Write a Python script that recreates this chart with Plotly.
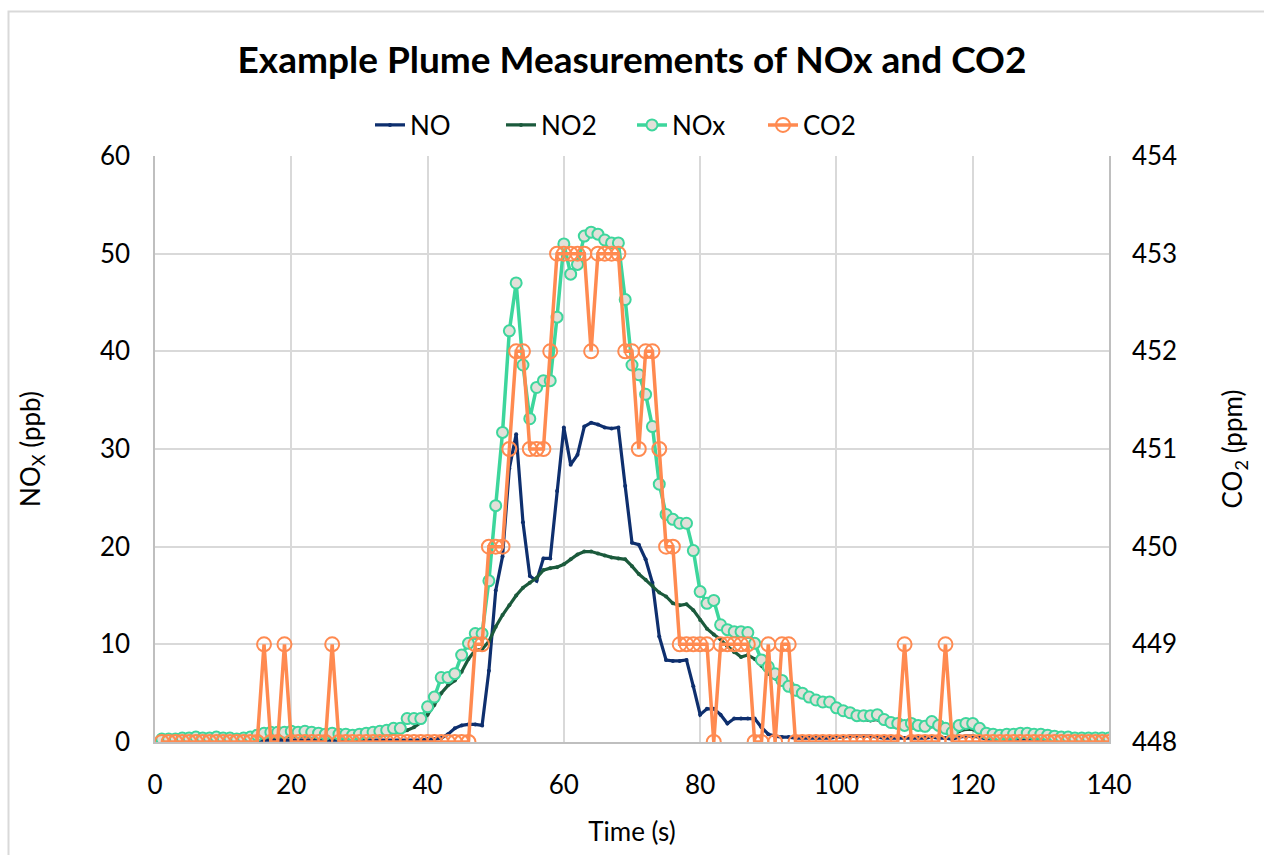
import plotly.graph_objects as go

time_s = list(range(1, 141))

no_ppb = [
    0.2, 0.2, 0.2, 0.2, 0.2, 0.2, 0.2, 0.2, 0.2, 0.2,   # 1-10
    0.2, 0.2, 0.2, 0.2, 0.2, 0.2, 0.2, 0.2, 0.2, 0.2,   # 11-20
    0.2, 0.2, 0.2, 0.2, 0.2, 0.2, 0.2, 0.2, 0.2, 0.2,   # 21-30
    0.2, 0.2, 0.2, 0.2, 0.2, 0.2, 0.2, 0.2, 0.2, 0.3,   # 31-40
    0.3, 0.4, 0.8, 1.4, 1.7, 1.8, 1.8, 1.7, 7.3, 15.5,  # 41-50
    19.0, 28.0, 31.5, 22.5, 17.0, 16.5, 18.8, 18.8, 25.7, 32.2,  # 51-60
    28.4, 29.4, 32.3, 32.7, 32.5, 32.2, 32.1, 32.2, 26.2, 20.4,  # 61-70
    20.2, 18.7, 16.3, 10.8, 8.4, 8.3, 8.3, 8.4, 5.7, 2.8,  # 71-80
    3.4, 3.4, 2.8, 1.9, 2.4, 2.4, 2.4, 2.4, 1.5, 0.8,   # 81-90
    0.6, 0.5, 0.5, 0.4, 0.4, 0.4, 0.4, 0.4, 0.4, 0.5,   # 91-100
    0.5, 0.6, 0.6, 0.6, 0.6, 0.5, 0.4, 0.4, 0.4, 0.4,   # 101-110
    0.4, 0.4, 0.4, 0.5, 0.4, 0.4, 0.3, 0.5, 0.6, 0.6,   # 111-120
    0.5, 0.3, 0.3, 0.3, 0.3, 0.3, 0.3, 0.3, 0.3, 0.3,   # 121-130
    0.2, 0.2, 0.2, 0.2, 0.2, 0.2, 0.2, 0.2, 0.2, 0.2,   # 131-140
]

no2_ppb = [
    0.2, 0.2, 0.2, 0.2, 0.3, 0.3, 0.2, 0.2, 0.3, 0.2,   # 1-10
    0.2, 0.2, 0.2, 0.3, 0.4, 0.5, 0.5, 0.5, 0.5, 0.6,   # 11-20
    0.5, 0.6, 0.5, 0.5, 0.4, 0.5, 0.4, 0.4, 0.4, 0.5,   # 21-30
    0.5, 0.6, 0.7, 0.8, 0.9, 1.0, 1.2, 1.5, 2.0, 2.8,   # 31-40
    3.8, 5.0, 5.8, 6.3, 7.2, 8.5, 9.4, 9.5, 10.3, 11.8,  # 41-50
    13.0, 14.0, 15.0, 15.8, 16.3, 16.8, 17.6, 17.8, 17.9, 18.2,  # 51-60
    18.7, 19.2, 19.5, 19.5, 19.3, 19.1, 18.9, 18.8, 18.7, 18.0,  # 61-70
    17.2, 16.6, 16.0, 15.3, 14.9, 14.2, 14.0, 14.1, 13.5, 12.5,  # 71-80
    11.6, 11.0, 10.5, 9.8, 9.2, 8.7, 8.9, 8.5, 7.8, 7.0,  # 81-90
    6.5, 6.0, 5.4, 4.9, 4.6, 4.3, 4.0, 3.8, 3.7, 3.2,   # 91-100
    2.9, 2.6, 2.3, 2.3, 2.2, 2.3, 1.9, 1.6, 1.5, 1.3,   # 101-110
    1.5, 1.3, 1.2, 1.6, 1.3, 1.0, 0.7, 1.1, 1.3, 1.3,   # 111-120
    0.9, 0.6, 0.5, 0.5, 0.5, 0.5, 0.5, 0.5, 0.5, 0.5,   # 121-130
    0.4, 0.4, 0.3, 0.3, 0.3, 0.3, 0.3, 0.3, 0.3, 0.3,   # 131-140
]

nox_ppb = [
    0.3, 0.3, 0.3, 0.4, 0.4, 0.5, 0.4, 0.4, 0.5, 0.4,   # 1-10
    0.4, 0.3, 0.4, 0.5, 0.7, 0.9, 1.0, 1.0, 1.0, 1.1,   # 11-20
    1.0, 1.1, 1.0, 0.9, 0.8, 0.9, 0.8, 0.8, 0.7, 0.8,   # 21-30
    0.9, 1.0, 1.1, 1.2, 1.4, 1.4, 2.4, 2.4, 2.4, 3.6,   # 31-40
    4.6, 6.6, 6.6, 7.0, 8.9, 10.1, 11.1, 11.1, 16.5, 24.2,  # 41-50
    31.7, 42.1, 47.0, 38.6, 33.1, 36.3, 37.0, 37.0, 43.5, 51.0,  # 51-60
    47.9, 48.9, 51.8, 52.2, 52.0, 51.4, 51.1, 51.1, 45.3, 38.6,  # 61-70
    37.6, 35.6, 32.3, 26.4, 23.3, 22.8, 22.4, 22.4, 19.6, 15.4,  # 71-80
    14.2, 14.5, 12.0, 11.5, 11.3, 11.3, 11.2, 10.1, 8.4, 7.7,  # 81-90
    7.0, 6.3, 5.7, 5.3, 5.0, 4.6, 4.3, 4.1, 4.1, 3.5,   # 91-100
    3.2, 3.0, 2.7, 2.7, 2.7, 2.8, 2.3, 2.0, 1.9, 1.7,   # 101-110
    1.9, 1.7, 1.6, 2.1, 1.7, 1.4, 1.0, 1.7, 1.9, 1.9,   # 111-120
    1.4, 0.9, 0.8, 0.7, 0.8, 0.8, 0.9, 0.9, 0.8, 0.8,   # 121-130
    0.7, 0.6, 0.5, 0.5, 0.4, 0.4, 0.4, 0.4, 0.4, 0.4,   # 131-140
]

co2_ppm = [
    448, 448, 448, 448, 448, 448, 448, 448, 448, 448,   # 1-10
    448, 448, 448, 448, 448, 449, 448, 448, 449, 448,   # 11-20
    448, 448, 448, 448, 448, 449, 448, 448, 448, 448,   # 21-30
    448, 448, 448, 448, 448, 448, 448, 448, 448, 448,   # 31-40
    448, 448, 448, 448, 448, 448, 449, 449, 450, 450,   # 41-50
    450, 451, 452, 452, 451, 451, 451, 452, 453, 453,   # 51-60
    453, 453, 453, 452, 453, 453, 453, 453, 452, 452,   # 61-70
    451, 452, 452, 451, 450, 450, 449, 449, 449, 449,   # 71-80
    449, 448, 449, 449, 449, 449, 449, 448, 448, 449,   # 81-90
    448, 449, 449, 448, 448, 448, 448, 448, 448, 448,   # 91-100
    448, 448, 448, 448, 448, 448, 448, 448, 448, 449,   # 101-110
    448, 448, 448, 448, 448, 449, 448, 448, 448, 448,   # 111-120
    448, 448, 448, 448, 448, 448, 448, 448, 448, 448,   # 121-130
    448, 448, 448, 448, 448, 448, 448, 448, 448, 448,   # 131-140
]

x_ticks = [0, 20, 40, 60, 80, 100, 120, 140]
nox_ticks = [0, 10, 20, 30, 40, 50, 60]
co2_ticks = [448, 449, 450, 451, 452, 453, 454]

FONT = "Lato"
C_NO = "#0E2F6E"
C_NO2 = "#1B5A3C"
C_NOX = "#3DD69C"
C_CO2 = "#FF8A50"
GRID = "#D9D9D9"
AXIS = "#BFBFBF"

fig = go.Figure()
fig.add_trace(go.Scatter(
    x=time_s, y=no_ppb, name="NO", mode="lines+markers",
    line=dict(color=C_NO, width=3.2), marker=dict(size=4, color=C_NO)))
fig.add_trace(go.Scatter(
    x=time_s, y=no2_ppb, name="NO2", mode="lines+markers",
    line=dict(color=C_NO2, width=3.2), marker=dict(size=4, color=C_NO2)))
fig.add_trace(go.Scatter(
    x=time_s, y=nox_ppb, name="NOx", mode="lines+markers",
    line=dict(color=C_NOX, width=3.5),
    marker=dict(size=11, color="#E2E0D9", line=dict(color=C_NOX, width=2))))
fig.add_trace(go.Scatter(
    x=time_s, y=co2_ppm, name="CO2", mode="lines+markers", yaxis="y2",
    line=dict(color=C_CO2, width=3.5),
    marker=dict(size=14, symbol="circle-open", color=C_CO2, line=dict(width=2))))

W, H = 1264, 855
L, R, T, B = 155, 155, 156, 113
pw, ph = W - L - R, H - T - B

fig.update_layout(
    width=W, height=H,
    margin=dict(l=L, r=R, t=T, b=B, pad=0),
    paper_bgcolor="white", plot_bgcolor="white",
    font=dict(family=FONT, size=26, color="#000000"),
    title=dict(text="<b>Example Plume Measurements of NOx and CO2</b>",
               x=0.5, xanchor="center", y=1 - 60 / H, yanchor="middle",
               font=dict(family=FONT, size=37, color="#000000")),
    legend=dict(orientation="h", x=0.5, xanchor="center",
                y=(H - B - 125) / ph, yanchor="middle",
                entrywidth=86, entrywidthmode="pixels",
                font=dict(family=FONT, size=26), bgcolor="rgba(0,0,0,0)"),
    showlegend=True,
    xaxis=dict(range=[0, 140], tickvals=x_ticks, showgrid=True, gridcolor=GRID,
               gridwidth=1.5, zeroline=False, showline=True, linecolor=AXIS,
               linewidth=1.5, ticks="", ticklabelstandoff=19,
               tickfont=dict(size=26),
               title=dict(text="Time (s)", font=dict(size=26), standoff=24)),
    yaxis=dict(range=[0, 60], tickvals=nox_ticks, showgrid=True, gridcolor=GRID,
               gridwidth=1.5, zeroline=False, showline=True, linecolor=AXIS,
               linewidth=1.5, ticks="", ticklabelstandoff=18,
               tickfont=dict(size=26),
               title=dict(text="NO<sub>X</sub> (ppb)", font=dict(size=26), standoff=52)),
    yaxis2=dict(range=[448, 454], tickvals=co2_ticks, overlaying="y", side="right",
                showgrid=False, zeroline=False, showline=True, linecolor=AXIS,
                linewidth=1.5, ticks="", ticklabelstandoff=16,
                tickfont=dict(size=26),
                title=dict(text="CO<sub>2</sub> (ppm)", font=dict(size=26), standoff=48)),
    shapes=[dict(type="rect", xref="paper", yref="paper",
                 x0=(8.5 - L) / pw, x1=1.3, y0=-0.4, y1=(H - B - 11.5) / ph,
                 line=dict(color=GRID, width=2), layer="below")],
)

fig.write_html("out.html")
